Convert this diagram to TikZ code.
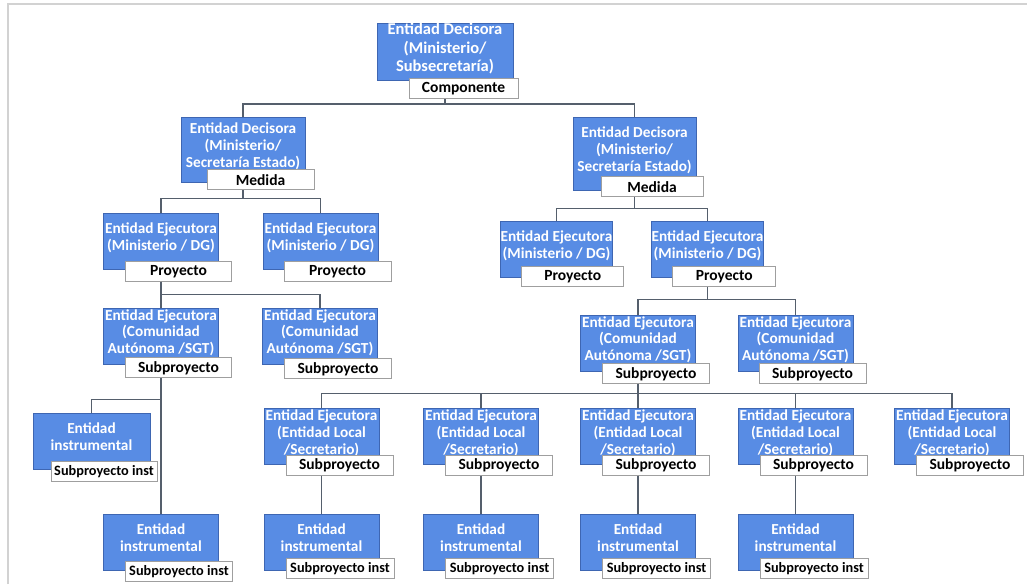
\documentclass[tikz,border=0pt]{standalone}
\usepackage{fontspec}
\setmainfont{Carlito}
\definecolor{entblue}{RGB}{88,140,228}
\definecolor{entedge}{RGB}{62,102,178}
\definecolor{linkgray}{RGB}{85,95,108}

\begin{document}
\begin{tikzpicture}[x=1pt, y=-1pt,
    ent/.style={fill=entblue, draw=entedge, line width=0.8pt, text=white, align=center,
        inner sep=0pt, minimum width=115pt, minimum height=56pt, text depth=9pt,
        font=\bfseries\fontsize{15.3}{16.8}\selectfont},
    tag/.style={fill=white, draw=gray!75, line width=0.8pt, anchor=north west, inner sep=0pt,
        minimum width=107pt, minimum height=20pt, font=\bfseries\fontsize{15.5}{17}\selectfont},
    taginst/.style={tag, font=\bfseries\fontsize{14.3}{16}\selectfont},
    link/.style={draw=linkgray, line width=1.3pt}]

    \useasboundingbox (0,0) rectangle (1027,584);
    \draw[gray!35, line width=1.5pt] (8,584) -- (8,4) -- (1027,4);

    % Componente
    \node[ent, minimum width=136pt, font=\bfseries\fontsize{16.5}{18.5}\selectfont] (d0) at (445,52)
        {Entidad Decisora\\(Ministerio/\\Subsecretaría)};
    \node[tag, minimum width=109pt] (dt0) at ([xshift=32pt,yshift=3pt]d0.south west) {Componente};

    % Medidas
    \node[ent, minimum width=124pt, minimum height=65pt] (d1) at (243,149.5)
        {Entidad Decisora\\(Ministerio/\\Secretaría Estado)};
    \node[tag] (dt1) at ([xshift=26pt,yshift=13pt]d1.south west) {Medida};
    \node[ent, minimum width=123pt, minimum height=73pt] (d2) at (634.5,153.5)
        {Entidad Decisora\\(Ministerio/\\Secretaría Estado)};
    \node[tag, minimum width=102pt] (dt2) at ([xshift=28pt,yshift=14pt]d2.south west) {Medida};

    \draw[link] (d0 |- dt0.south) -- ++(0,5) -| (d1.north);
    \draw[link] (d0 |- dt0.south) -- ++(0,5) -| (d2.north);

    % Proyectos
    \node[ent] (e1) at (161,241.5) {Entidad Ejecutora\\(Ministerio / DG)};
    \node[tag, minimum width=106pt] (et1) at ([xshift=22pt,yshift=9pt]e1.south west) {Proyecto};
    \node[ent] (e2) at (320.5,241.5) {Entidad Ejecutora\\(Ministerio / DG)};
    \node[tag] (et2) at ([xshift=21pt,yshift=9pt]e2.south west) {Proyecto};
    \node[ent, minimum width=111pt] (e3) at (556.5,249) {Entidad Ejecutora\\(Ministerio / DG)};
    \node[tag, minimum width=102pt] (et3) at ([xshift=21pt,yshift=11pt]e3.south west) {Proyecto};
    \node[ent, minimum width=111pt] (e4) at (707.5,249) {Entidad Ejecutora\\(Ministerio / DG)};
    \node[tag, minimum width=103pt] (et4) at ([xshift=21pt,yshift=11pt]e4.south west) {Proyecto};

    \draw[link] (d1 |- dt1.south) -- ++(0,8) -| (e1.north);
    \draw[link] (d1 |- dt1.south) -- ++(0,8) -| (e2.north);
    \draw[link] (d2 |- dt2.south) -- ++(0,11) -| (e3.north);
    \draw[link] (d2 |- dt2.south) -- ++(0,11) -| (e4.north);

    % Subproyectos (Comunidad Autonoma)
    \node[ent] (c1) at (161,336) {Entidad Ejecutora\\(Comunidad\\Autónoma /SGT)};
    \node[tag, minimum width=106pt] (ct1) at ([xshift=22pt,yshift=7pt]c1.south west) {Subproyecto};
    \node[ent] (c2) at (320,336) {Entidad Ejecutora\\(Comunidad\\Autónoma /SGT)};
    \node[tag] (ct2) at ([xshift=22pt,yshift=6pt]c2.south west) {Subproyecto};
    \node[ent] (c3) at (638,343) {Entidad Ejecutora\\(Comunidad\\Autónoma /SGT)};
    \node[tag] (ct3) at ([xshift=22pt,yshift=8pt]c3.south west) {Subproyecto};
    \node[ent] (c4) at (795.5,343) {Entidad Ejecutora\\(Comunidad\\Autónoma /SGT)};
    \node[tag] (ct4) at ([xshift=21pt,yshift=8pt]c4.south west) {Subproyecto};

    \draw[link] (e1 |- et1.south) -- ++(0,13) -| (c1.north);
    \draw[link] (e1 |- et1.south) -- ++(0,13) -| (c2.north);
    \draw[link] (e4 |- et4.south) -- ++(0,12) -| (c3.north);
    \draw[link] (e4 |- et4.south) -- ++(0,12) -| (c4.north);

    % Entidades instrumentales de la Comunidad Autonoma
    \node[ent, minimum width=117pt] (i1) at (91.5,441.5) {Entidad\\instrumental};
    \node[taginst, minimum width=106pt] (it1) at ([xshift=18pt,yshift=9pt]i1.south west) {Subproyecto inst};
    \node[ent] (i2) at (161,542) {Entidad\\instrumental};
    \node[taginst] (it2) at ([xshift=22pt,yshift=9pt]i2.south west) {Subproyecto inst};

    \draw[link] (c1 |- ct1.south) -- (i2.north);
    \draw[link] (c1 |- ct1.south) -- ++(0,21) -| (i1.north);

    % Subproyectos (Entidad Local)
    \foreach \k/\x in {1/321.5, 2/481, 3/638, 4/795.5, 5/952}{
        \node[ent] (l\k) at (\x,436.5) {Entidad Ejecutora\\(Entidad Local\\/Secretario)};
        \node[tag] (lt\k) at ([xshift=22pt,yshift=10pt]l\k.south west) {Subproyecto};
        \draw[link] (c3 |- ct3.south) -- ++(0,9) -| (l\k.north);
    }

    % Entidades instrumentales de la Entidad Local
    \foreach \k/\x in {1/321.5, 2/481, 3/638, 4/795.5}{
        \node[ent] (j\k) at (\x,542) {Entidad\\instrumental};
        \node[taginst, minimum width=108pt] (jt\k) at ([xshift=22pt,yshift=12pt]j\k.south west) {Subproyecto inst};
        \draw[link] (l\k |- lt\k.south) -- (j\k.north);
    }
\end{tikzpicture}
\end{document}
